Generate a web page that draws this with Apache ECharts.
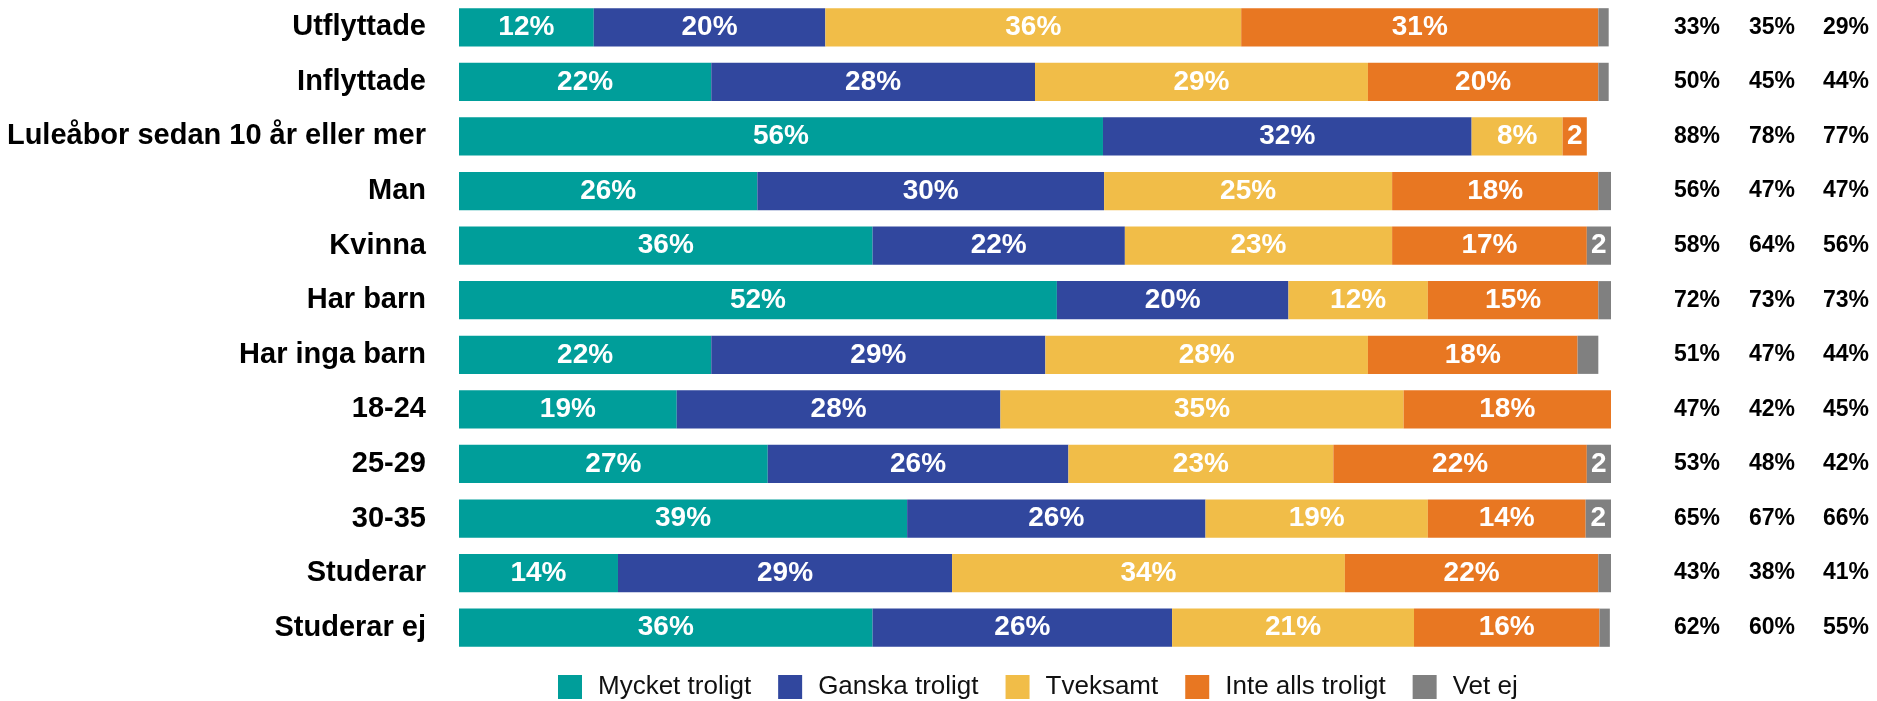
<!DOCTYPE html>
<html>
<head>
<meta charset="utf-8">
<script src="https://cdn.jsdelivr.net/npm/echarts@6/dist/echarts.min.js"></script>
<style>
html,body{margin:0;padding:0;background:#fff;}
#chart{width:1877px;height:701px;}
</style>
</head>
<body>
<div id="chart"></div>
<script>
const categories = ['Utflyttade','Inflyttade','Luleåbor sedan 10 år eller mer','Man','Kvinna','Har barn','Har inga barn','18-24','25-29','30-35','Studerar','Studerar ej'];
const seriesNames = ['Mycket troligt','Ganska troligt','Tveksamt','Inte alls troligt','Vet ej'];
const mycketTroligt = [11.7, 21.9, 55.9, 25.9, 35.9, 51.9, 21.9, 18.9, 26.8, 38.9, 13.8, 35.9];
const ganskaTroligt = [20.1, 28.1, 32.0, 30.1, 21.9, 20.1, 29.0, 28.1, 26.1, 25.9, 29.0, 26.0];
const tveksamt      = [36.1, 28.9, 7.9, 25.0, 23.2, 12.1, 28.0, 35.0, 23.0, 19.3, 34.1, 21.0];
const inteAlls      = [31.0, 20.0, 2.1, 17.9, 16.9, 14.8, 18.2, 18.0, 22.0, 13.7, 22.0, 16.1];
const vetEj         = [0.9, 0.9, 0, 1.1, 2.1, 1.1, 1.8, 0, 2.1, 2.2, 1.1, 0.9];
const column1 = ['33%','50%','88%','56%','58%','72%','51%','47%','53%','65%','43%','62%'];
const column2 = ['35%','45%','78%','47%','64%','73%','47%','42%','48%','67%','38%','60%'];
const column3 = ['29%','44%','77%','47%','56%','73%','44%','45%','42%','66%','41%','55%'];
const colors = ['#009E9A','#31479E','#F1BD48','#E87722','#808080'];

const FONT = "'Liberation Sans', Arial, sans-serif";
const allValues = [mycketTroligt, ganskaTroligt, tveksamt, inteAlls, vetEj];

const chart = echarts.init(document.getElementById('chart'), null, {renderer:'canvas'});

function buildSeries(pxPerUnit){
  return allValues.map((vals, si) => ({
    name: seriesNames[si],
    type: 'bar',
    stack: 'total',
    barCategoryGap: '30%',
    silent: true,
    itemStyle: {color: colors[si]},
    data: vals.map(v => {
      const item = {value: v};
      if (pxPerUnit) {
        item.label = {width: Math.max(v * pxPerUnit, 0.1), overflow: 'truncate', ellipsis: ''};
      }
      return item;
    }),
    label: {
      show: true,
      position: 'inside',
      color: '#fff',
      fontFamily: FONT,
      fontWeight: 'bold',
      fontSize: 28,
      formatter: p => p.value > 0 ? Math.round(p.value) + '%' : ''
    }
  }));
}

function sideAxis(data, margin){
  return {
    type: 'category',
    position: 'right',
    inverse: true,
    data: data,
    axisLine: {show:false},
    axisTick: {show:false},
    splitLine: {show:false},
    axisLabel: {
      margin: margin,
      align: 'center',
      color: '#000',
      fontFamily: FONT,
      fontWeight: 'bold',
      fontSize: 23
    }
  };
}

const option = {
  backgroundColor: '#fff',
  animation: false,
  color: colors,
  grid: {left: 459, right: 266, top: 0, bottom: 46, outerBoundsMode: 'none'},
  xAxis: {
    type: 'value', min: 0, max: 100,
    show: false
  },
  yAxis: [
    {
      type: 'category',
      inverse: true,
      data: categories,
      axisLine: {show:false},
      axisTick: {show:false},
      splitLine: {show:false},
      axisLabel: {
        margin: 33,
        color: '#000',
        fontFamily: FONT,
        fontWeight: 'bold',
        fontSize: 29
      }
    },
    sideAxis(column1, 86),
    sideAxis(column2, 161),
    sideAxis(column3, 235)
  ],
  legend: {
    data: seriesNames,
    left: 553,
    top: 669,
    itemWidth: 24,
    itemHeight: 24,
    itemGap: 27,
    icon: 'rect',
    selectedMode: false,
    textStyle: {
      color: '#111',
      fontFamily: FONT,
      fontSize: 26,
      padding: [0,0,0,11]
    }
  },
  series: buildSeries(null)
};

chart.setOption(option);
const pxPerUnit = chart.convertToPixel({xAxisIndex:0}, 1) - chart.convertToPixel({xAxisIndex:0}, 0);
chart.setOption({series: buildSeries(pxPerUnit)});
</script>
</body>
</html>
